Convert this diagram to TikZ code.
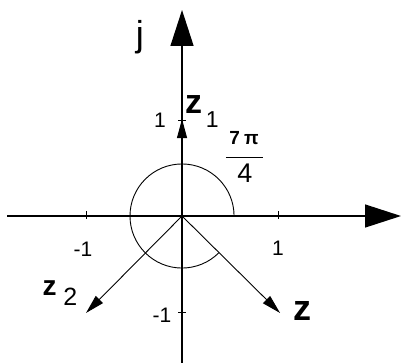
\documentclass[tikz,border=0pt]{standalone}
\usepackage{fontspec}
\setmainfont{Liberation Sans}
\usetikzlibrary{arrows.meta}
\newcommand{\fsz}[1]{\fontsize{#1}{#1}\selectfont}
\tikzset{
            axis/.style={line width=1.4pt,-{Triangle[length=36pt,width=23pt]}},
            vec/.style={line width=0.9pt,-{Triangle[length=19pt,width=10pt]}},
            tick/.style={line width=0.9pt},
            num/.style={inner sep=0pt,font=\fsz{21}}
        }

\begin{document}
\begin{tikzpicture}[
                    x=96pt,y=96pt,
                    every node/.style={inner sep=0pt}
                    ]
                \useasboundingbox (-1.896,-1.531) rectangle (2.281,2.25);
                \coordinate (O) at (0,0);
                \coordinate (xl) at (-1.823,0);
                \coordinate (xr) at (2.281,0);
                \coordinate (yb) at (0,-1.531);
                \coordinate (yt) at (0,2.146);
                \coordinate (z) at (1.021,-1.010);
                \coordinate (z1) at (0,1.01);
                \coordinate (z2) at (-1,-1.010);
                % axes
                \draw[axis] (xl) -- (xr);
                \draw[axis] (yb) -- (yt);
                \foreach \t in {-1,1} {
                    \draw[tick] (\t,-0.03) -- (\t,0.05);
                    \draw[tick] (-0.04,\t) -- (0.04,\t);
                }
                % angle
                \draw[line width=0.9pt] (0.542,0) arc[start angle=0,end angle=315,radius=0.542];
                % vectors
                \draw[vec] (O) -- (z);
                \draw[vec] (O) -- (z2);
                \draw[vec] (O) -- (z1);
                % labels
                \node[font=\fsz{36}] (j) at (-0.44,1.865) {j};
                \node[font=\fsz{36}\bfseries] (zl) at (1.25,-0.990) {z};
                \node[anchor=base west,font=\fsz{34}\bfseries] (z1l) at (0.03,1.07) {z\raisebox{-14pt}{\fsz{23}\mdseries\,1}};
                \node[anchor=base west,font=\fsz{28}\bfseries] (z2l) at (-1.455,-0.833) {z\raisebox{-10pt}{\fsz{25}\mdseries\;2}};
                \node[num] (y1) at (-0.229,1.0) {1};
                \node[num] (ym) at (-0.208,-1.031) {-1};
                \node[num] (x1) at (1.0,-0.333) {1};
                \node[num] (xm) at (-1.031,-0.344) {-1};
                \node[font=\fsz{19}\bfseries] (fn) at (0.646,0.813) {7\hspace{4pt}π};
                \node[font=\fsz{27}] (fd) at (0.656,0.448) {4};
                \coordinate (fl) at (0.458,0.615);
                \coordinate (fr) at (0.844,0.615);
                \draw[line width=0.9pt] (fl) -- (fr);
            \end{tikzpicture}
\end{document}
